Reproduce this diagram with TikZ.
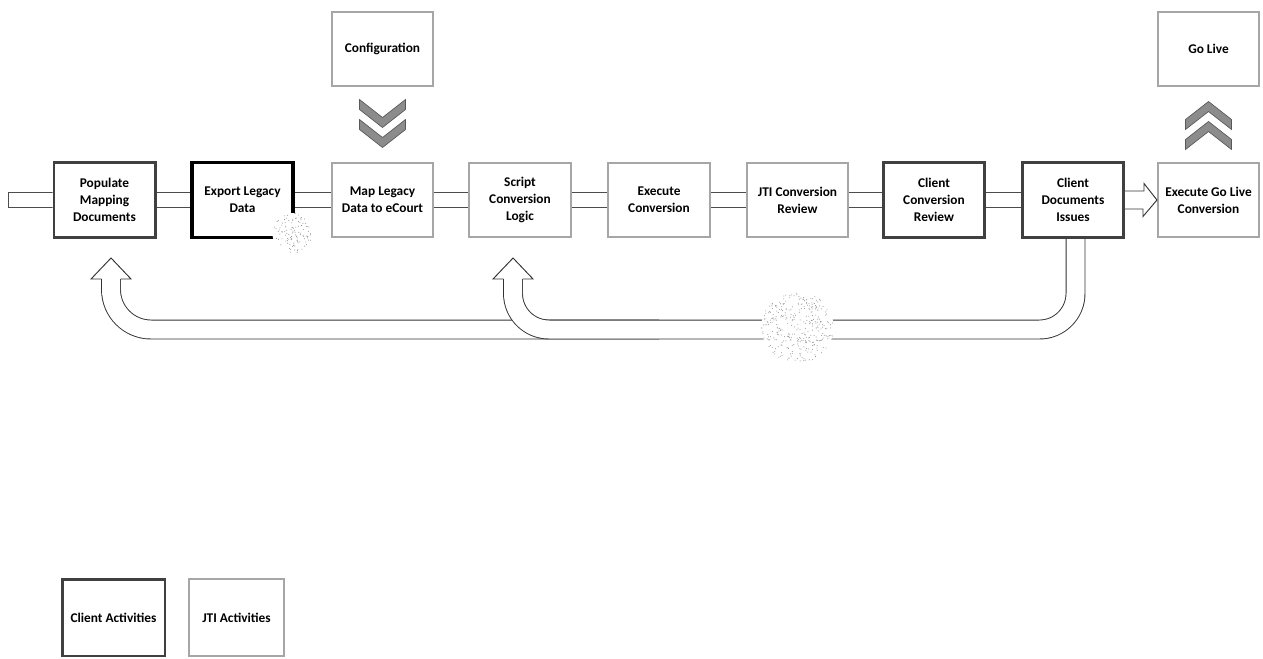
\documentclass[tikz,border=0pt]{standalone}
\usepackage{fontspec}
\setmainfont{Carlito}
\usetikzlibrary{calc,backgrounds}

\tikzset{
  actbox/.style={align=center, font=\bfseries\fontsize{10}{12.75}\selectfont, minimum width=76pt, minimum height=56pt, inner sep=1pt, fill=white},
  clientbox/.style={actbox, draw=black!75, line width=2pt},
  jtibox/.style={actbox, draw=black!35, line width=1.3pt},
  pipe/.style={draw=black!70, line width=0.6pt, double=white, double distance=10.6pt},
  band/.style={draw=black!80, line width=0.7pt, double=white, double distance=13.5pt},
  outline/.style={draw=black!80, line width=0.7pt},
  chev/.style={fill=black!45, draw=black!65, line width=0.5pt},
  speck/.style={fill=black!40}
}

\begin{document}
\begin{tikzpicture}[x=0.75pt, y=-0.75pt]
\useasboundingbox (0,0) rectangle (1263,658);

% main row
\node[clientbox] (pop) at (104.5,200) {Populate\\Mapping\\Documents};
\node[clientbox, draw=black, line width=2.6pt] (exp) at (242.5,200) {Export Legacy\\Data};
\node[jtibox] (map) at (382.5,200) {Map Legacy\\Data to eCourt};
\node[jtibox] (scr) at (520,200) {Script\\Conversion\\Logic};
\node[jtibox] (exe) at (659,200) {Execute\\Conversion};
\node[jtibox] (rev) at (797.5,200) {JTI Conversion\\Review};
\node[clientbox] (ccr) at (934,200) {Client\\Conversion\\Review};
\node[clientbox] (cdi) at (1073,200) {Client\\Documents\\Issues};
\node[jtibox] (egl) at (1208.5,200) {Execute Go Live\\Conversion};

% top row
\node[jtibox] (cfg) at (382.5,49) {Configuration};
\node[jtibox] (live) at (1208.5,49) {Go Live};

% legend
\node[clientbox, minimum width=77pt, minimum height=57.5pt] (lcl) at (113.5,617.5) {Client Activities};
\node[jtibox, minimum width=71pt, minimum height=57.5pt] (ljti) at (236.5,617.5) {JTI Activities};

% loop back
\coordinate (hA) at ($(pop.center)+(6.5,79)$);
\coordinate (hB) at ($(scr.center)+(-7,79)$);
\coordinate (dR) at ($(cdi.south)+(2.5,0)$);
\coordinate (bot) at ($(cdi.center)+(2.5,129.5)$);

\begin{scope}[on background layer]
  \foreach \a/\b in {pop/exp, exp/map, map/scr, scr/exe, exe/rev, rev/ccr, ccr/cdi}
    \draw[pipe] (\a.center) -- (\b.center);
  \draw[band, rounded corners=30pt] (hA) |- ($(exe.center)+(0,129.5)$);
  \draw[band, rounded corners=27pt] (dR) -- (bot) -| (hB);
\end{scope}

\draw[outline] ([xshift=-7.1pt]hA) -- ++(-10.5,0) -- ++(20,-21) -- ++(20,21) -- ++(-10.5,0);
\draw[outline] ([xshift=-7.1pt]hB) -- ++(-10.5,0) -- ++(20,-21) -- ++(20,21) -- ++(-10.5,0);

% in and out
\draw[draw=black!70, line width=0.6pt] ([yshift=5.6pt]pop.west) -- ++(-44,0) -- ++(0,15) -- ([yshift=-5.6pt]pop.west);
\draw[outline] ([yshift=6.75pt]cdi.east) -- ++(19,0) -- ++(0,-7.5) -- (egl.west) -- ++(-14,16.5) -- ++(0,-7.5) -- ([yshift=-6.75pt]cdi.east);

% chevrons
\coordinate (dn) at ($(cfg.south)!0.5!(map.north)$);
\coordinate (up) at ($(egl.north)!0.5!(live.south)$);
\foreach \dy in {-25,-5} {
  \draw[chev, shift={(dn)}] (-23,\dy) -- (0,\dy+18) -- (23,\dy) -- (23,\dy+10) -- (0,\dy+28) -- (-23,\dy+10) -- cycle;
  \draw[chev, shift={(up)}, yscale=-1] (-23,\dy) -- (0,\dy+18) -- (23,\dy) -- (23,\dy+10) -- (0,\dy+28) -- (-23,\dy+10) -- cycle;
}

% specks
\coordinate (spotA) at ($(exp.south east)+(-2.5,-6)$);
\coordinate (spotB) at ($(rev.center)+(0,127)$);
\pgfmathsetseed{7}
\fill[white] (spotA) circle (15pt);
\fill[white] (spotB) circle (27pt);
\foreach \i in {1,...,110} {
  \pgfmathsetmacro\rr{15*sqrt(rnd)}
  \pgfmathsetmacro\tt{360*rnd}
  \fill[speck] ($(spotA)+(\tt:\rr pt)$) circle (0.4pt);
}
\foreach \i in {1,...,330} {
  \pgfmathsetmacro\rr{27*sqrt(rnd)}
  \pgfmathsetmacro\tt{360*rnd}
  \fill[speck] ($(spotB)+(\tt:\rr pt)$) circle (0.4pt);
}
\end{tikzpicture}
\end{document}
